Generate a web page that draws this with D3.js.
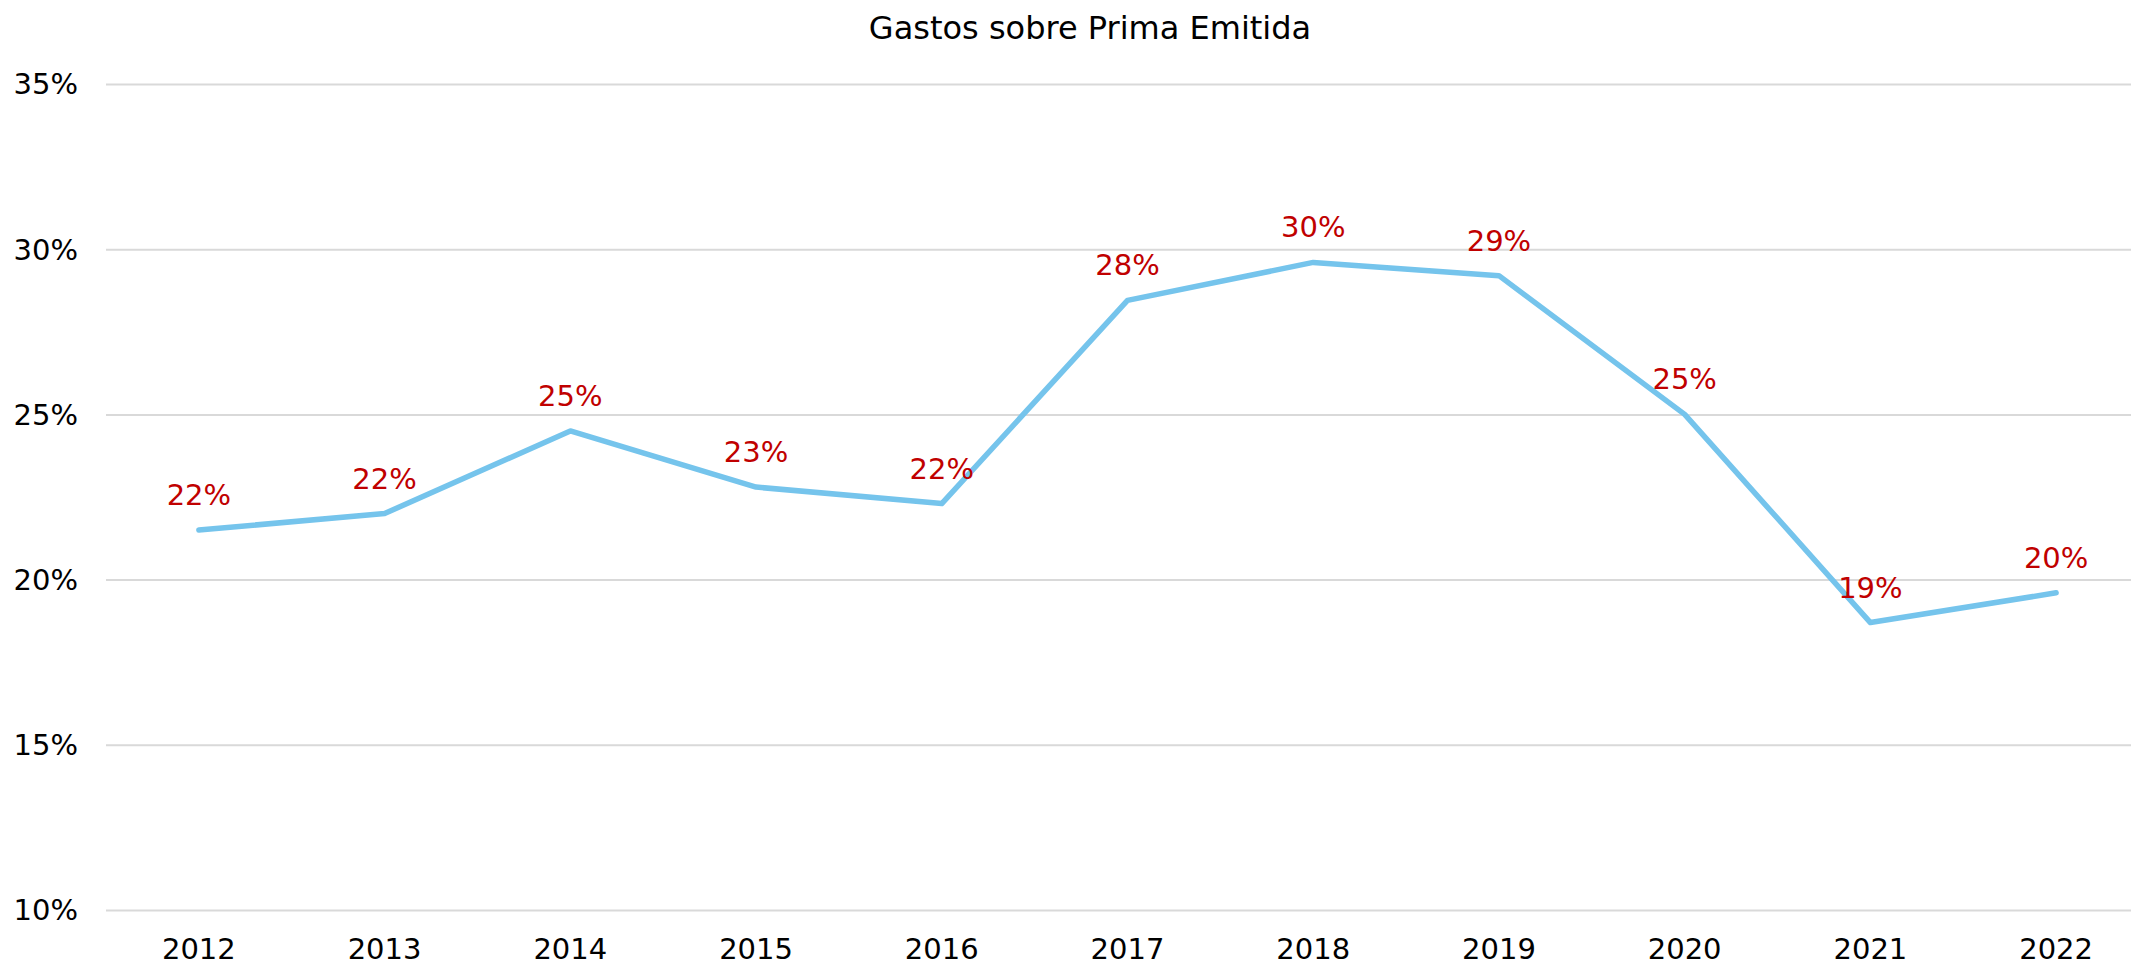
<!DOCTYPE html>
<html>
<head>
  <meta charset="utf-8">
  <script src="https://d3js.org/d3.v7.min.js"></script>
  <title>Gastos sobre Prima Emitida</title>
</head>
<style>
html,body {
  margin: 0;
  background: white;
  font-family: 'DejaVu Sans', sans-serif;
  overflow: hidden;
}
svg { display: block; }
.grid line { stroke: #d9d9d9; stroke-width: 2; }
.grid path { display: none; }
</style>
<body>
<script type="text/javascript">
// datos
var years = ["2012","2013","2014","2015","2016","2017","2018","2019","2020","2021","2022"];
var gastos = [21.5, 22.0, 24.5, 22.8, 22.3, 28.45, 29.6, 29.2, 25.0, 18.7, 19.6];
var yTicks = [10, 15, 20, 25, 30, 35];
var titulo = "Gastos sobre Prima Emitida";

var width = 2131, height = 965;
// el area del grafico se sale un poco por la derecha (como en el original)
var margin = {top: 84, right: -18, bottom: 55, left: 106};

var svg = d3.select("body").append("svg")
  .attr("width", width)
  .attr("height", height);

var x = d3.scalePoint()
  .domain(years)
  .range([margin.left, width - margin.right])
  .padding(0.5);

var y = d3.scaleLinear()
  .domain([10, 35])
  .range([height - margin.bottom, margin.top]);

// lineas de grilla
svg.append("g")
  .attr("class", "grid")
  .attr("transform", "translate(" + margin.left + ",0)")
  .call(d3.axisLeft(y).tickValues(yTicks).tickSize(-(width - margin.left - margin.right)).tickFormat(""));

// etiquetas eje y
svg.selectAll(".ylab")
  .data(yTicks)
  .enter().append("text")
  .attr("class", "ylab")
  .attr("x", 78)
  .attr("y", function(d) { return y(d); })
  .attr("dy", "0.36em")
  .attr("text-anchor", "end")
  .attr("font-size", "29px")
  .attr("fill", "#000")
  .text(function(d) { return d + "%"; });

// etiquetas eje x
svg.selectAll(".xlab")
  .data(years)
  .enter().append("text")
  .attr("class", "xlab")
  .attr("x", function(d) { return x(d); })
  .attr("y", 959)
  .attr("text-anchor", "middle")
  .attr("font-size", "29px")
  .attr("fill", "#000")
  .text(function(d) { return d; });

// linea
var line = d3.line()
  .x(function(d, i) { return x(years[i]); })
  .y(function(d) { return y(d); });

svg.append("path")
  .datum(gastos)
  .attr("d", line)
  .attr("fill", "none")
  .attr("stroke", "#75c4ec")
  .attr("stroke-width", 5.5)
  .attr("stroke-linejoin", "round")
  .attr("stroke-linecap", "round");

// etiquetas de datos
svg.selectAll(".dlab")
  .data(gastos)
  .enter().append("text")
  .attr("class", "dlab")
  .attr("x", function(d, i) { return x(years[i]); })
  .attr("y", function(d) { return y(d) - 25; })
  .attr("text-anchor", "middle")
  .attr("font-size", "29px")
  .attr("fill", "#c00000")
  .text(function(d) { return Math.round(d) + "%"; });

// titulo
svg.append("text")
  .attr("x", 1090)
  .attr("y", 39)
  .attr("text-anchor", "middle")
  .attr("font-size", "32px")
  .attr("fill", "#000")
  .text(titulo);
</script>
</body>
</html>
